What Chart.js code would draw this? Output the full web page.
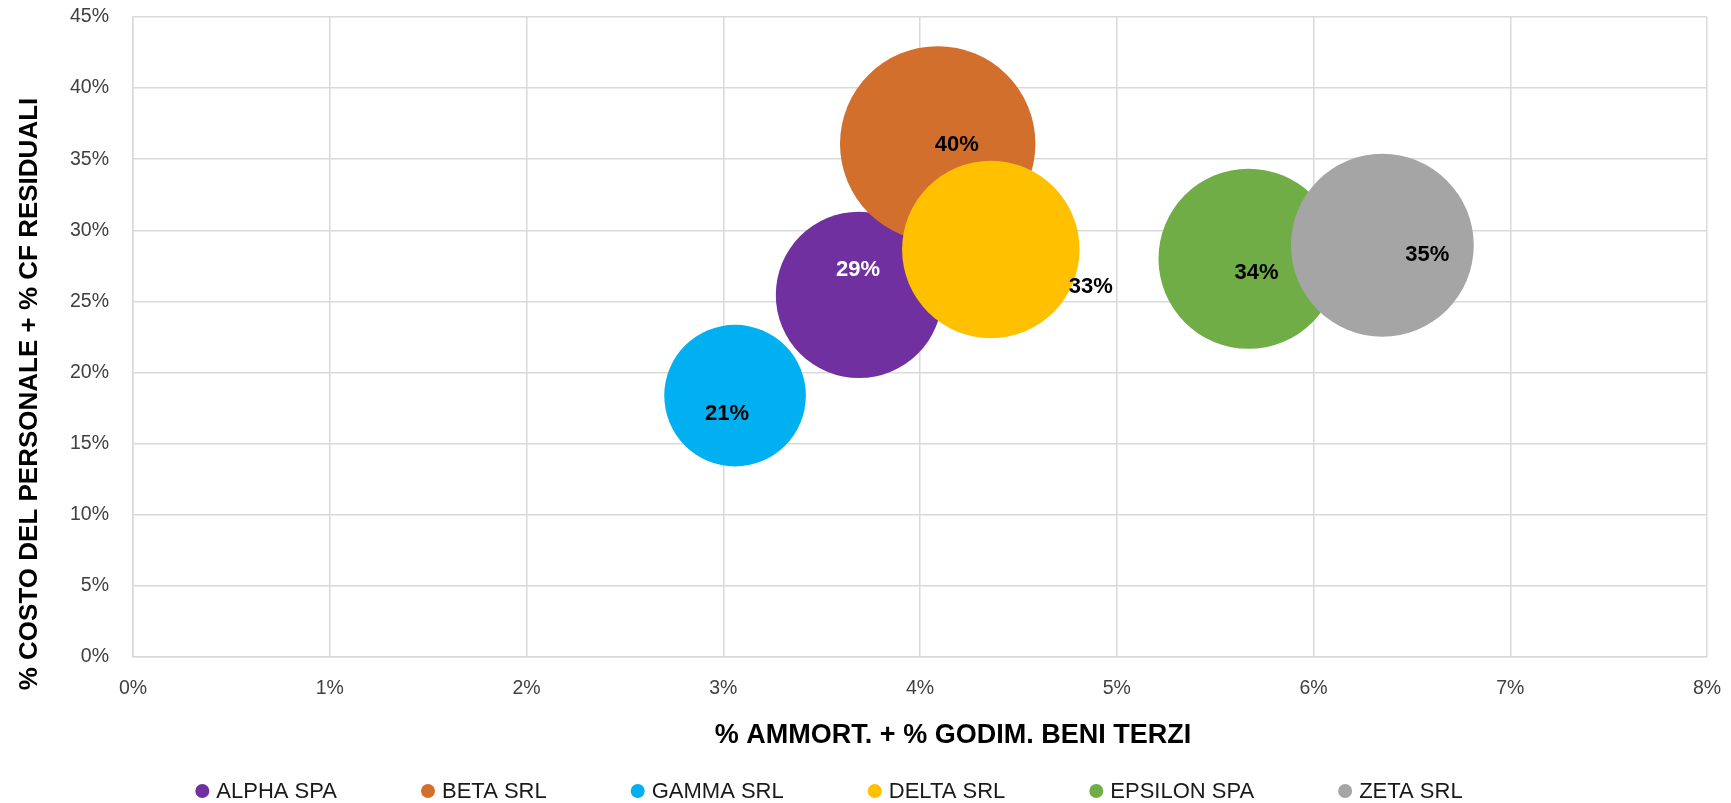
<!DOCTYPE html>
<html>
<head>
<meta charset="utf-8">
<title>Bubble chart</title>
<script src="https://cdn.jsdelivr.net/npm/chart.js@4.4.1/dist/chart.umd.min.js"></script>
<style>
    body { margin: 0; background: #ffffff; overflow: hidden; }
    canvas { display: block; }
</style>
</head>
<body>
<canvas id="bubblechart" width="1731" height="803"></canvas>
<script>
const canvasId = 'bubblechart';

// data
var companies = ['ALPHA SPA', 'BETA SRL', 'GAMMA SRL', 'DELTA SRL', 'EPSILON SPA', 'ZETA SRL'];
var ammortValues = [3.69, 4.09, 3.06, 4.36, 5.67, 6.35];      // % AMMORT. + % GODIM. BENI TERZI
var personaleValues = [25.46, 36.08, 18.38, 28.65, 28.0, 28.95]; // % COSTO DEL PERSONALE + % CF RESIDUALI
var bubbleSizes = [29, 40, 21, 33, 34, 35];
var xTicks = [0, 1, 2, 3, 4, 5, 6, 7, 8];
var yTicks = [0, 5, 10, 15, 20, 25, 30, 35, 40, 45];

// styling
var colors = ['#7030A0', '#D36F2D', '#00B0F0', '#FFC000', '#70AD47', '#A5A5A5'];
var labelColors = ['#FFFFFF', '#000000', '#000000', '#000000', '#000000', '#000000'];
var labelOffsets = [[-1, -25], [19, 1], [-8, 18], [100, 37], [8, 14], [45, 10]];
var bubbleScale = 15.45;
var gridColor = '#D9D9D9';
var textColor = '#404040';
var fontFamily = '"Liberation Sans", Arial, sans-serif';

var datasets = companies.map(function(name, i) {
    return {
        label: name,
        data: [{ x: ammortValues[i], y: personaleValues[i] }],
        backgroundColor: colors[i],
        borderWidth: 0,
        order: companies.length - i, // later series on top, like excel
        radius: function(ctx) {
            return bubbleScale * Math.sqrt(bubbleSizes[ctx.datasetIndex]);
        }
    };
});

// value labels, placed by hand like in the original
var bubbleLabels = {
    id: 'bubbleLabels',
    afterDatasetsDraw: function(chart) {
        var ctx = chart.ctx;
        ctx.save();
        ctx.font = 'bold 22px ' + fontFamily;
        ctx.textAlign = 'center';
        ctx.textBaseline = 'middle';
        chart.data.datasets.forEach(function(ds, i) {
            var pt = chart.getDatasetMeta(i).data[0];
            ctx.fillStyle = labelColors[i];
            ctx.fillText(bubbleSizes[i] + '%', pt.x + labelOffsets[i][0], pt.y + labelOffsets[i][1]);
        });
        ctx.restore();
    }
};

// axis titles
var axisTitles = {
    id: 'axisTitles',
    afterDraw: function(chart) {
        var ctx = chart.ctx;
        ctx.save();
        ctx.fillStyle = '#000000';
        ctx.textAlign = 'center';
        ctx.textBaseline = 'middle';
        ctx.font = 'bold 27px ' + fontFamily;
        ctx.fillText('% AMMORT. + % GODIM. BENI TERZI', 953, 736);
        ctx.font = 'bold 26px ' + fontFamily;
        ctx.translate(30, 394);
        ctx.rotate(-Math.PI / 2);
        ctx.fillText('% COSTO DEL PERSONALE + % CF RESIDUALI', 0, 0);
        ctx.restore();
    }
};

// legend row at the bottom
var bottomLegend = {
    id: 'bottomLegend',
    afterDraw: function(chart) {
        var ctx = chart.ctx;
        var markerR = 7;
        var textGap = 7;
        var itemGap = 84;
        var y = 791;
        ctx.save();
        ctx.font = '22px ' + fontFamily;
        ctx.textBaseline = 'middle';
        ctx.textAlign = 'left';
        var widths = companies.map(function(name) { return ctx.measureText(name).width; });
        var total = 0;
        widths.forEach(function(w, i) {
            total += markerR * 2 + textGap + w + (i < widths.length - 1 ? itemGap : 0);
        });
        var x = 829 - total / 2;
        companies.forEach(function(name, i) {
            ctx.fillStyle = colors[i];
            ctx.beginPath();
            ctx.arc(x + markerR, y, markerR, 0, Math.PI * 2);
            ctx.fill();
            ctx.fillStyle = '#1A1A1A';
            ctx.fillText(name, x + markerR * 2 + textGap, y + 1);
            x += markerR * 2 + textGap + widths[i] + itemGap;
        });
        ctx.restore();
    }
};

var ctx = document.getElementById(canvasId).getContext('2d');
window[canvasId] = new Chart(ctx, {
    type: 'bubble',
    data: { datasets: datasets },
    plugins: [bubbleLabels, axisTitles, bottomLegend],
    options: {
        responsive: false,
        animation: false,
        events: [],
        layout: {
            autoPadding: false,
            padding: { left: 70, top: 17, right: 24, bottom: 0 }
        },
        plugins: {
            legend: { display: false },
            tooltip: { enabled: false }
        },
        scales: {
            x: {
                type: 'linear',
                min: xTicks[0],
                max: xTicks[xTicks.length - 1],
                afterBuildTicks: function(scale) {
                    scale.ticks = xTicks.map(function(v) { return { value: v }; });
                },
                afterFit: function(scale) {
                    scale.height = 146;
                    scale.paddingLeft = 0;
                    scale.paddingRight = 0;
                },
                grid: { color: gridColor, lineWidth: 1.5, drawTicks: false },
                border: { color: gridColor, width: 1.5 },
                ticks: {
                    padding: 20,
                    color: textColor,
                    font: { family: fontFamily, size: 19.5 },
                    callback: function(v) { return v + '%'; }
                }
            },
            y: {
                type: 'linear',
                min: yTicks[0],
                max: yTicks[yTicks.length - 1],
                afterBuildTicks: function(scale) {
                    scale.ticks = yTicks.map(function(v) { return { value: v }; });
                },
                afterFit: function(scale) {
                    scale.width = 63;
                    scale.paddingTop = 0;
                    scale.paddingBottom = 0;
                },
                grid: { color: gridColor, lineWidth: 1.5, drawTicks: false },
                border: { color: gridColor, width: 1.5 },
                ticks: {
                    padding: 24,
                    color: textColor,
                    font: { family: fontFamily, size: 19.5 },
                    callback: function(v) { return v + '%'; }
                }
            }
        }
    }
});
</script>
</body>
</html>
